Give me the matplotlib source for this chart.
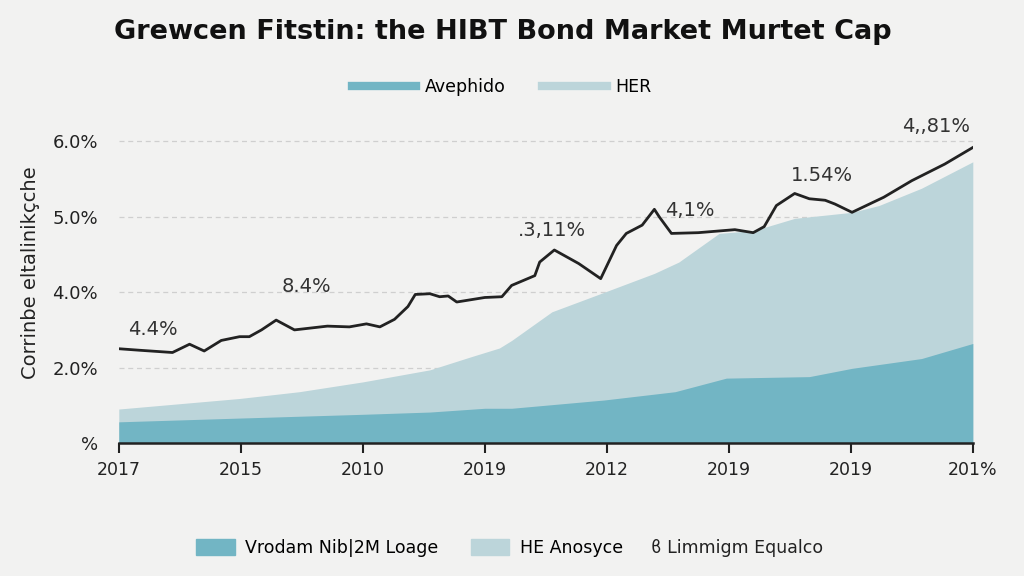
import matplotlib
matplotlib.use("Agg")
import matplotlib.pyplot as plt
from matplotlib.lines import Line2D
from matplotlib.patches import Patch

# tick labels (as printed on the chart)
x_labels = ["2017", "2015", "2010", "2019", "2012", "2019", "2019", "201%"]
y_labels = ["%", "2.0%", "4.0%", "5.0%", "6.0%"]

# black line (axis units: x = tick index, y = tick index)
line_x = [0, 0.17, 0.44, 0.58, 0.70, 0.84, 0.99, 1.07, 1.17, 1.29, 1.44, 1.71, 1.89,
          2.03, 2.14, 2.26, 2.37, 2.43, 2.55, 2.63, 2.70, 2.77, 3.0, 3.14, 3.22, 3.41,
          3.45, 3.57, 3.77, 3.95, 4.08, 4.16, 4.29, 4.39, 4.43, 4.53, 4.75, 5.05, 5.20,
          5.29, 5.39, 5.54, 5.66, 5.79, 5.87, 6.01, 6.27, 6.50, 6.77, 7.0]
line_y = [1.25, 1.23, 1.20, 1.31, 1.22, 1.36, 1.41, 1.41, 1.50, 1.63, 1.50, 1.55, 1.54,
          1.58, 1.54, 1.64, 1.81, 1.97, 1.98, 1.94, 1.95, 1.87, 1.93, 1.94, 2.09, 2.22,
          2.40, 2.56, 2.38, 2.18, 2.62, 2.78, 2.89, 3.10, 3.00, 2.78, 2.79, 2.83, 2.79,
          2.87, 3.15, 3.31, 3.24, 3.22, 3.17, 3.06, 3.26, 3.48, 3.70, 3.92]

# light area
her_x = [0, 0.99, 1.48, 2.0, 2.55, 2.88, 3.12, 3.22, 3.55, 3.98, 4.39, 4.59, 4.92,
         5.21, 5.54, 6.01, 6.23, 6.58, 7.0]
her_y = [0.45, 0.59, 0.68, 0.81, 0.97, 1.14, 1.26, 1.36, 1.74, 2.0, 2.25, 2.40, 2.78,
         2.82, 2.98, 3.06, 3.15, 3.38, 3.73]

# dark area
ave_x = [0, 0.99, 2.0, 2.55, 3.0, 3.22, 3.98, 4.56, 4.98, 5.66, 6.01, 6.58, 7.0]
ave_y = [0.28, 0.33, 0.38, 0.41, 0.46, 0.46, 0.57, 0.68, 0.86, 0.88, 0.99, 1.12, 1.32]

# annotations
notes = [".3,11%", "4.4%", "8.4%", "4,1%", "1.54%", "4,,81%"]
note_x = [3.55, 0.28, 1.54, 4.68, 5.76, 6.70]
note_y = [2.82, 1.50, 2.07, 3.09, 3.55, 4.20]

bg = "#f2f2f1"
dark = "#72b5c4"
light = "#bcd5da"

plt.rcParams["font.family"] = ["DejaVu Sans"]

fig = plt.figure(figsize=(10.24, 5.76), dpi=100, facecolor=bg)
ax = fig.add_axes([0.116, 0.231, 0.834, 0.543], facecolor=bg)

ax.fill_between(her_x, 0, her_y, color=light, lw=0, zorder=1)
ax.fill_between(ave_x, 0, ave_y, color=dark, lw=0, zorder=2)
ax.plot(line_x, line_y, color="#222222", lw=2, zorder=4)

for t, x, y in zip(notes, note_x, note_y):
    ax.text(x, y, t, ha="center", va="center", fontsize=14, fontweight="medium",
            color="#333333", zorder=5)

ax.set_xlim(0, 7)
ax.set_ylim(0, 4.15)
ax.set_xticks(range(len(x_labels)))
ax.set_xticklabels(x_labels, fontsize=12.5, color="#222222")
ax.set_yticks(range(len(y_labels)))
ax.set_yticklabels(y_labels, fontsize=13, color="#222222")
ax.tick_params(axis="x", length=7, width=1.5, color="#222222", pad=6)
ax.tick_params(axis="y", length=0, pad=15)
for y in range(1, len(y_labels)):
    ax.axhline(y, color="#cfcfcf", lw=0.9, ls=(0, (4, 3)), zorder=0)
for s in ["top", "right", "left"]:
    ax.spines[s].set_visible(False)
ax.spines["bottom"].set_linewidth(1.8)
ax.spines["bottom"].set_color("#222222")
ax.spines["bottom"].set_zorder(6)

fig.text(0.03, 0.527, "Corrinbe eltalinikçche", rotation=90, ha="center", va="center",
         fontsize=14, color="#222222")

fig.suptitle("Grewcen Fitstin: the HIBT Bond Market Murtet Cap", x=0.491, y=0.944,
             fontsize=19.5, fontweight="bold", va="center", color="#111111")

top_handles = [Line2D([], [], color=dark, lw=6), Line2D([], [], color=light, lw=6)]
fig.legend(top_handles, ["Avephido", "HER"], loc="center", bbox_to_anchor=(0.49, 0.849),
           ncol=2, frameon=False, fontsize=12.5, handlelength=3.7, columnspacing=2.1,
           handletextpad=0.5)

bot_handles = [Patch(color=dark), Patch(color=light)]
fig.legend(bot_handles, ["Vrodam Nib|2M Loage", "HE Anosyce"],
           loc="center", bbox_to_anchor=(0.40, 0.049), ncol=2, frameon=False,
           fontsize=12.5, handlelength=2.2, handleheight=1.0, columnspacing=1.9,
           handletextpad=0.6)
fig.text(0.636, 0.049, "ϐ Limmigm Equalco", ha="left", va="center", fontsize=12.5,
         color="#222222")

fig.savefig("out.png", dpi=100, facecolor=bg)
